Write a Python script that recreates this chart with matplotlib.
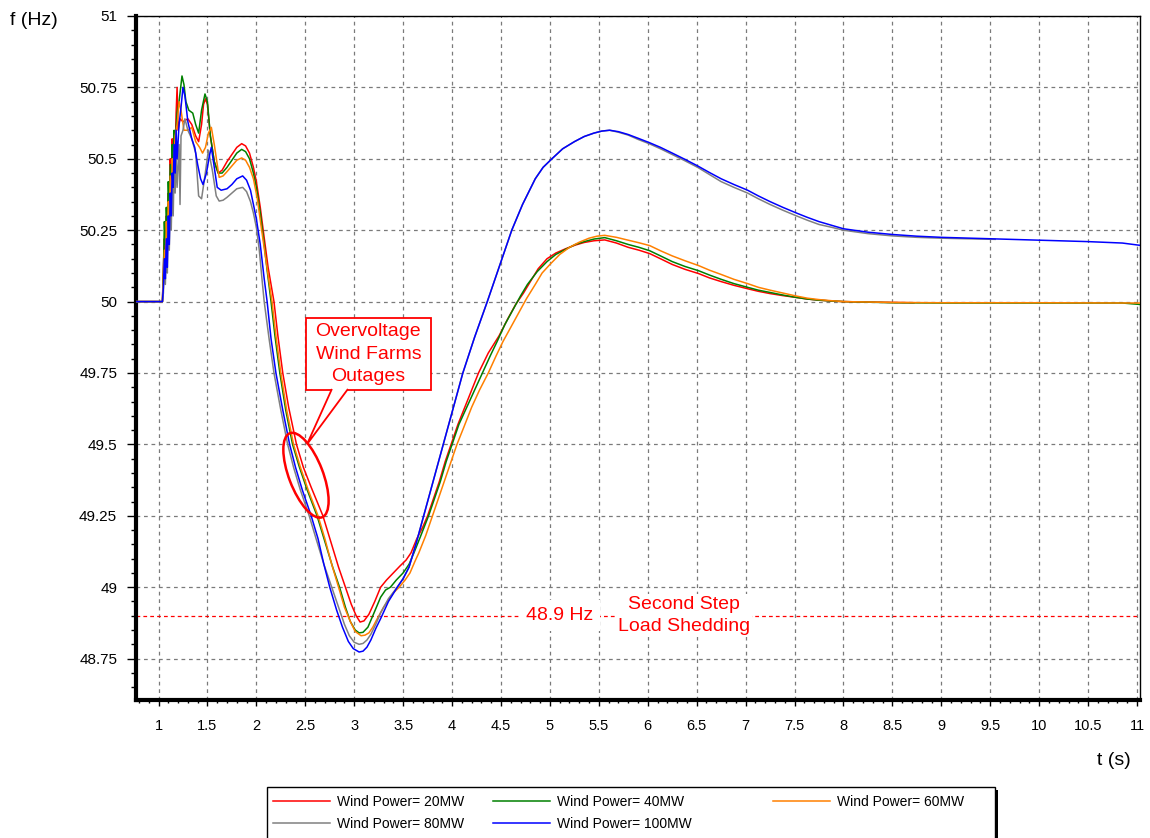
import matplotlib
matplotlib.use('Agg')
import matplotlib.pyplot as plt
from matplotlib.patches import Ellipse, Polygon, Rectangle
from matplotlib.ticker import MultipleLocator, FormatStrFormatter
from matplotlib.transforms import Affine2D, ScaledTranslation

plt.rcParams['font.family'] = ['Liberation Sans', 'DejaVu Sans']

# frequency traces (t in s, f in Hz)
t_20 = [0.77, 1.04, 1.05, 1.06, 1.07, 1.08, 1.09, 1.10, 1.11, 1.12,
        1.13, 1.14, 1.15, 1.16, 1.17, 1.18, 1.19, 1.20, 1.22, 1.25,
        1.30, 1.34, 1.38, 1.41, 1.44, 1.46, 1.48, 1.50, 1.53, 1.57,
        1.61, 1.65, 1.70, 1.75, 1.80, 1.85, 1.89, 1.93, 1.97, 2.00,
        2.04, 2.07, 2.12, 2.18, 2.22, 2.27, 2.33, 2.41, 2.48, 2.56,
        2.68, 2.76, 2.84, 2.91, 2.97, 3.02, 3.06, 3.10, 3.15, 3.21,
        3.27, 3.33, 3.40, 3.47, 3.53, 3.58, 3.64, 3.70, 3.75, 3.81,
        3.87, 3.93, 3.99, 4.06, 4.13, 4.20, 4.27, 4.37, 4.48, 4.57,
        4.65, 4.73, 4.80, 4.88, 4.97, 5.06, 5.16, 5.26, 5.35, 5.45,
        5.56, 5.68, 5.80, 5.91, 6.02, 6.13, 6.25, 6.38, 6.52, 6.63,
        6.75, 6.88, 7.02, 7.13, 7.25, 7.38, 7.51, 7.63, 7.75, 7.88,
        8.00, 8.30, 8.72]
f_20 = [50.0, 50.0, 50.12, 50.22, 50.17, 50.3, 50.26, 50.38, 50.33, 50.5,
        50.42, 50.57, 50.5, 50.59, 50.52, 50.66, 50.75, 50.6, 50.64, 50.63,
        50.64, 50.62, 50.58, 50.56, 50.62, 50.69, 50.71, 50.69, 50.58, 50.49,
        50.45, 50.46, 50.49, 50.515, 50.54, 50.553, 50.545, 50.52, 50.47, 50.42,
        50.33, 50.25, 50.12, 50.0, 49.88, 49.75, 49.63, 49.5, 49.42, 49.35,
        49.25, 49.16, 49.07, 49.0, 48.94, 48.9, 48.878, 48.882, 48.905, 48.95,
        49.0, 49.025, 49.05, 49.075, 49.095, 49.12, 49.17, 49.21, 49.25, 49.31,
        49.37, 49.44, 49.5, 49.57, 49.63, 49.69, 49.75, 49.82, 49.88, 49.94,
        49.99, 50.03, 50.07, 50.115, 50.15, 50.17, 50.185, 50.198, 50.207, 50.213,
        50.216, 50.205, 50.19, 50.18, 50.168, 50.15, 50.13, 50.113, 50.098, 50.083,
        50.07, 50.057, 50.045, 50.036, 50.028, 50.021, 50.015, 50.009, 50.005, 50.002,
        50.0, 49.998, 49.996]

t_40 = [0.77, 1.04, 1.05, 1.06, 1.07, 1.08, 1.09, 1.10, 1.11, 1.12,
        1.13, 1.14, 1.15, 1.16, 1.17, 1.19, 1.21, 1.24, 1.26, 1.28,
        1.31, 1.35, 1.38, 1.41, 1.44, 1.475, 1.50, 1.53, 1.57, 1.61,
        1.65, 1.70, 1.75, 1.80, 1.85, 1.89, 1.93, 1.97, 2.00, 2.04,
        2.08, 2.11, 2.15, 2.19, 2.24, 2.30, 2.37, 2.44, 2.52, 2.62,
        2.70, 2.78, 2.85, 2.91, 2.96, 3.01, 3.05, 3.09, 3.14, 3.19,
        3.27, 3.32, 3.37, 3.43, 3.50, 3.56, 3.61, 3.68, 3.76, 3.82,
        3.88, 3.94, 4.00, 4.07, 4.15, 4.23, 4.31, 4.39, 4.46, 4.54,
        4.62, 4.70, 4.77, 4.87, 4.97, 5.06, 5.16, 5.26, 5.35, 5.45,
        5.56, 5.68, 5.80, 5.91, 6.02, 6.13, 6.25, 6.38, 6.52, 6.63,
        6.75, 6.88, 7.02, 7.13, 7.25, 7.38, 7.51, 7.63, 7.75, 7.88,
        8.00, 8.50, 9.00, 10.00, 10.85, 11.03]
f_40 = [50.0, 50.0, 50.1, 50.28, 50.2, 50.33, 50.26, 50.42, 50.34, 50.48,
        50.4, 50.55, 50.48, 50.6, 50.55, 50.66, 50.7, 50.79, 50.76, 50.7,
        50.67, 50.66, 50.62, 50.59, 50.67, 50.727, 50.7, 50.58, 50.49, 50.45,
        50.45, 50.47, 50.495, 50.52, 50.533, 50.525, 50.5, 50.45, 50.4, 50.31,
        50.2, 50.11, 50.0, 49.88, 49.75, 49.62, 49.5, 49.42, 49.34, 49.25,
        49.16, 49.07, 49.0, 48.93, 48.88, 48.85, 48.84, 48.842, 48.86, 48.9,
        48.965, 48.99, 49.0, 49.025, 49.05, 49.08, 49.12, 49.18, 49.25, 49.31,
        49.37, 49.44, 49.5, 49.57, 49.63, 49.69, 49.75, 49.81, 49.86, 49.92,
        49.97, 50.02, 50.06, 50.105, 50.14, 50.165, 50.183, 50.2, 50.21, 50.219,
        50.224, 50.213, 50.2, 50.19, 50.178, 50.16, 50.14, 50.123, 50.108, 50.093,
        50.078, 50.063, 50.05, 50.04, 50.032, 50.023, 50.015, 50.009, 50.005, 50.002,
        50.0, 49.996, 49.995, 49.995, 49.995, 49.99]

t_60 = [0.77, 1.04, 1.05, 1.06, 1.07, 1.08, 1.09, 1.10, 1.11, 1.12,
        1.13, 1.14, 1.15, 1.17, 1.19, 1.21, 1.23, 1.26, 1.30, 1.34,
        1.38, 1.42, 1.45, 1.48, 1.51, 1.54, 1.57, 1.62, 1.66, 1.70,
        1.75, 1.80, 1.85, 1.89, 1.93, 1.97, 2.01, 2.05, 2.10, 2.16,
        2.20, 2.25, 2.31, 2.38, 2.45, 2.53, 2.63, 2.70, 2.77, 2.84,
        2.90, 2.96, 3.01, 3.07, 3.11, 3.15, 3.19, 3.22, 3.30, 3.40,
        3.46, 3.52, 3.57, 3.62, 3.66, 3.73, 3.80, 3.86, 3.93, 3.99,
        4.05, 4.12, 4.20, 4.28, 4.37, 4.45, 4.52, 4.60, 4.68, 4.76,
        4.85, 4.92, 5.00, 5.10, 5.20, 5.30, 5.40, 5.48, 5.56, 5.68,
        5.80, 5.91, 6.02, 6.13, 6.25, 6.38, 6.52, 6.63, 6.75, 6.88,
        7.02, 7.13, 7.25, 7.38, 7.51, 7.63, 7.75, 7.88, 8.00, 8.50,
        9.00, 10.00, 11.03]
f_60 = [50.0, 50.0, 50.08, 50.18, 50.12, 50.28, 50.2, 50.35, 50.3, 50.44,
        50.36, 50.5, 50.45, 50.58, 50.62, 50.7, 50.67, 50.6, 50.6, 50.61,
        50.56, 50.54, 50.52, 50.54, 50.59, 50.61, 50.55, 50.435, 50.44, 50.455,
        50.475, 50.495, 50.503, 50.495, 50.47, 50.43, 50.36, 50.26, 50.14, 50.0,
        49.88, 49.75, 49.62, 49.5, 49.42, 49.34, 49.25, 49.17, 49.08, 49.0,
        48.93, 48.88, 48.845, 48.83, 48.832, 48.84, 48.86, 48.88, 48.93, 48.98,
        49.0, 49.025, 49.05, 49.09, 49.12, 49.18, 49.25, 49.31, 49.38, 49.44,
        49.5, 49.56, 49.63, 49.69, 49.75, 49.81, 49.86, 49.91, 49.96, 50.01,
        50.06, 50.1, 50.13, 50.165, 50.19, 50.208, 50.222, 50.229, 50.232, 50.225,
        50.215, 50.206, 50.196, 50.178, 50.16, 50.143, 50.126, 50.11, 50.095, 50.078,
        50.063, 50.05, 50.04, 50.03, 50.02, 50.012, 50.007, 50.003, 50.0, 49.997,
        49.996, 49.996, 49.995]

t_80 = [0.77, 1.04, 1.05, 1.06, 1.07, 1.08, 1.09, 1.10, 1.11, 1.12,
        1.13, 1.14, 1.15, 1.16, 1.17, 1.18, 1.19, 1.21, 1.22, 1.23,
        1.25, 1.27, 1.30, 1.34, 1.38, 1.41, 1.44, 1.47, 1.51, 1.55,
        1.59, 1.62, 1.66, 1.70, 1.75, 1.80, 1.86, 1.90, 1.94, 1.97,
        2.00, 2.03, 2.06, 2.08, 2.13, 2.18, 2.25, 2.32, 2.38, 2.45,
        2.54, 2.61, 2.69, 2.77, 2.84, 2.90, 2.95, 3.00, 3.05, 3.09,
        3.13, 3.17, 3.22, 3.27, 3.35, 3.44, 3.50, 3.56, 3.63, 3.71,
        3.81, 3.91, 4.01, 4.11, 4.23, 4.36, 4.48, 4.61, 4.72, 4.85,
        4.93, 5.02, 5.13, 5.25, 5.35, 5.45, 5.53, 5.61, 5.70, 5.80,
        5.90, 6.02, 6.13, 6.25, 6.38, 6.51, 6.63, 6.75, 6.88, 7.02,
        7.13, 7.25, 7.38, 7.52, 7.63, 7.75, 7.88, 8.00, 8.25, 8.50,
        8.75, 9.00, 9.25, 9.55]
f_80 = [50.0, 50.0, 50.03, 50.14, 50.06, 50.2, 50.1, 50.28, 50.18, 50.35,
        50.25, 50.42, 50.3, 50.48, 50.38, 50.52, 50.4, 50.55, 50.34, 50.58,
        50.6, 50.64, 50.6, 50.57, 50.52, 50.37, 50.36, 50.43, 50.53, 50.46,
        50.37, 50.352, 50.355, 50.365, 50.38, 50.395, 50.40, 50.385, 50.35, 50.31,
        50.26, 50.18, 50.07, 50.0, 49.87, 49.75, 49.62, 49.5, 49.42, 49.34,
        49.25, 49.17, 49.08, 49.0, 48.93, 48.87, 48.83, 48.807, 48.80, 48.803,
        48.815, 48.835, 48.87, 48.91, 48.96, 49.0, 49.03, 49.07, 49.15, 49.25,
        49.375, 49.5, 49.625, 49.75, 49.875, 50.0, 50.12, 50.25, 50.34, 50.43,
        50.47, 50.5, 50.535, 50.56, 50.578, 50.59, 50.597, 50.6, 50.593, 50.583,
        50.568, 50.552, 50.535, 50.515, 50.493, 50.47, 50.445, 50.42, 50.4, 50.38,
        50.36, 50.34, 50.32, 50.30, 50.285, 50.27, 50.26, 50.25, 50.238, 50.23,
        50.225, 50.222, 50.22, 50.218]

t_100 = [0.77, 1.04, 1.05, 1.06, 1.07, 1.08, 1.09, 1.10, 1.11, 1.12,
         1.13, 1.14, 1.15, 1.16, 1.17, 1.18, 1.19, 1.21, 1.23, 1.25,
         1.27, 1.30, 1.34, 1.37, 1.40, 1.43, 1.455, 1.49, 1.52, 1.54,
         1.57, 1.60, 1.64, 1.70, 1.75, 1.80, 1.86, 1.90, 1.94, 1.97,
         2.00, 2.04, 2.08, 2.11, 2.15, 2.20, 2.27, 2.34, 2.40, 2.47,
         2.56, 2.63, 2.69, 2.75, 2.82, 2.88, 2.94, 2.99, 3.05, 3.09,
         3.13, 3.17, 3.22, 3.27, 3.35, 3.44, 3.50, 3.56, 3.63, 3.71,
         3.81, 3.91, 4.01, 4.11, 4.23, 4.36, 4.48, 4.61, 4.72, 4.85,
         4.93, 5.02, 5.13, 5.25, 5.35, 5.45, 5.53, 5.61, 5.70, 5.80,
         5.90, 6.02, 6.13, 6.25, 6.38, 6.51, 6.63, 6.75, 6.88, 7.02,
         7.13, 7.25, 7.38, 7.52, 7.63, 7.75, 7.88, 8.00, 8.25, 8.50,
         8.75, 9.00, 9.50, 10.00, 10.50, 10.85, 11.03]
f_100 = [50.0, 50.0, 50.05, 50.15, 50.08, 50.22, 50.12, 50.3, 50.2, 50.38,
         50.3, 50.45, 50.4, 50.55, 50.45, 50.6, 50.5, 50.62, 50.68, 50.75,
         50.72, 50.63, 50.57, 50.54, 50.48, 50.43, 50.41, 50.45, 50.51, 50.54,
         50.47, 50.40, 50.39, 50.395, 50.41, 50.43, 50.44, 50.425, 50.39, 50.34,
         50.29, 50.2, 50.08, 50.0, 49.87, 49.75, 49.62, 49.5, 49.42, 49.34,
         49.25, 49.17, 49.08, 49.0, 48.92, 48.86, 48.81, 48.785, 48.773, 48.776,
         48.79, 48.815, 48.855, 48.89, 48.95, 49.0, 49.03, 49.07, 49.15, 49.25,
         49.375, 49.5, 49.625, 49.75, 49.875, 50.0, 50.12, 50.25, 50.34, 50.43,
         50.47, 50.5, 50.535, 50.56, 50.578, 50.59, 50.597, 50.6, 50.595, 50.585,
         50.572, 50.556, 50.54, 50.52, 50.498, 50.475, 50.452, 50.43, 50.41, 50.39,
         50.37, 50.35, 50.33, 50.31, 50.295, 50.28, 50.267, 50.255, 50.243, 50.235,
         50.229, 50.225, 50.22, 50.215, 50.21, 50.205, 50.197]

labels = ['Wind Power= 20MW', 'Wind Power= 40MW', 'Wind Power= 60MW', 'Wind Power= 80MW', 'Wind Power= 100MW']
colors = ['#ff0000', '#008000', '#ff8000', '#808080', '#0000ff']
shedding_level = 48.9

fig = plt.figure(figsize=(11.5, 8.38), dpi=100)
ax = fig.add_axes([0.11826, 0.16468, 0.87304, 0.81623])

series = [(t_20, f_20), (t_40, f_40), (t_60, f_60), (t_80, f_80), (t_100, f_100)]
lines = []
for (t, f), lab, col in zip(series, labels, colors):
    ln, = ax.plot(t, f, color=col, lw=1.1, label=lab, zorder=3)
    lines.append(ln)

ax.set_xlim(0.77, 11.03)
ax.set_ylim(48.605, 51.0)

ax.xaxis.set_major_locator(MultipleLocator(0.5))
ax.xaxis.set_minor_locator(MultipleLocator(0.1))
ax.yaxis.set_major_locator(MultipleLocator(0.25))
ax.yaxis.set_minor_locator(MultipleLocator(0.05))
ax.xaxis.set_major_formatter(FormatStrFormatter('%g'))
ax.yaxis.set_major_formatter(FormatStrFormatter('%g'))

ax.grid(True, which='major', color='#7a7a7a', ls=(0, (3, 3)), lw=0.9, zorder=1)
ax.set_axisbelow(True)

ax.tick_params(axis='y', which='major', direction='out', length=6.5, width=1, pad=7, labelsize=11)
ax.tick_params(axis='y', which='minor', direction='out', length=3.5, width=1)
ax.tick_params(axis='x', which='major', direction='out', length=4, width=1, pad=10, labelsize=10.5)
ax.tick_params(axis='x', which='minor', direction='out', length=2.5, width=1)

ax.spines['left'].set_linewidth(3)
ax.spines['bottom'].set_linewidth(3)
ax.spines['top'].set_linewidth(1)
ax.spines['right'].set_linewidth(1)

fig.text(0.0087, 0.976, 'f (Hz)', fontsize=14, va='center', ha='left')
fig.text(0.9687, 0.093, 't (s)', fontsize=14, va='center', ha='center')

# load shedding threshold
ax.axhline(shedding_level, color='red', ls=(0, (3, 2.5)), lw=0.9, zorder=2)
ax.text(5.10, shedding_level, '48.9 Hz', color='red', fontsize=14, ha='center', va='center', zorder=4,
        bbox=dict(boxstyle='square,pad=0.35', fc='white', ec='none'))
ax.text(6.37, shedding_level, 'Second Step\nLoad Shedding', color='red', fontsize=14, ha='center',
        va='center', linespacing=1.4, zorder=4,
        bbox=dict(boxstyle='square,pad=0.1', fc='white', ec='none'))

# callout for the wind farm outages
ax.add_patch(Rectangle((2.507, 49.692), 1.276, 0.249, fc='white', ec='red', lw=1.3, zorder=5))
ax.add_patch(Polygon([(2.772, 49.694), (2.517, 49.50), (2.936, 49.694)], closed=False,
                     fc='white', ec='red', lw=1.3, zorder=6))
ax.text(3.145, 49.816, 'Overvoltage\nWind Farms\nOutages', color='red', fontsize=14, ha='center',
        va='center', linespacing=1.4, zorder=7)
ell_tr = Affine2D().scale(fig.dpi / 72.0) + ScaledTranslation(2.507, 49.392, ax.transData)
ax.add_patch(Ellipse((0, 0), 64.8, 24.5, angle=-69, transform=ell_tr, fc='none', ec='red', lw=1.8,
                     zorder=6, clip_on=False))

# legend box, partly cut by the lower edge of the figure
fig.add_artist(Rectangle((0.2348, -0.06), 0.6330, 0.1173, transform=fig.transFigure,
                         fc='black', ec='none', zorder=1))
fig.add_artist(Rectangle((0.2322, -0.05), 0.6330, 0.1109, transform=fig.transFigure,
                         fc='white', ec='black', lw=1, zorder=2))
col_x = [0.2374, 0.4287, 0.6722]
col_handles = [[lines[0], lines[3]], [lines[1], lines[4]], [lines[2]]]
for x0, hs in zip(col_x, col_handles):
    leg = fig.legend(handles=hs, loc='upper left', bbox_to_anchor=(x0, 0.0519), frameon=False, fontsize=10,
                     handlelength=4.1, handletextpad=0.5, borderpad=0, borderaxespad=0, labelspacing=0.62)
    leg.set_zorder(3)

fig.savefig('out.png', dpi=100)
